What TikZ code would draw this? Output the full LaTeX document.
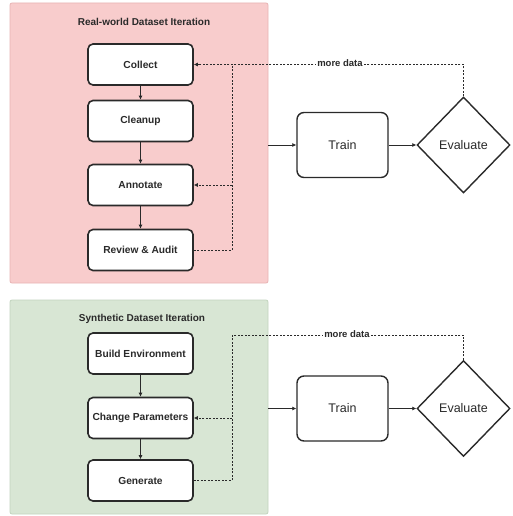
\documentclass[tikz,border=0pt]{standalone}
\usepackage{fontspec}
\setmainfont{Liberation Sans}
\usetikzlibrary{arrows.meta,shapes.geometric}
\definecolor{realfill}{HTML}{F8CCCC}
\definecolor{realedge}{HTML}{E8B4B4}
\definecolor{synfill}{HTML}{D8E6D4}
\definecolor{synedge}{HTML}{C2D4BE}
\definecolor{ink}{HTML}{2A2A2A}
\begin{document}
\begin{tikzpicture}[x=1pt,y=-1pt,
  group/.style={draw=#1, line width=0.8pt, rounded corners=2pt, inner sep=0pt},
  grouptitle/.style={font=\bfseries\fontsize{10}{12}\selectfont, text=ink},
  stepbox/.style={draw=ink, line width=1.6pt, rounded corners=5pt, fill=white,
    minimum width=105pt, minimum height=41pt, inner sep=0pt,
    font=\bfseries\fontsize{10.2}{12}\selectfont, text=ink},
  trainbox/.style={draw=ink, line width=1.4pt, rounded corners=7pt, fill=white,
    minimum width=91pt, minimum height=65pt, inner sep=0pt,
    font=\fontsize{12.5}{14}\selectfont, text=ink},
  evalbox/.style={diamond, draw=ink, line width=1.4pt, fill=white,
    minimum width=93pt, minimum height=96pt, inner sep=0pt,
    font=\fontsize{12.5}{14}\selectfont, text=ink},
  flow/.style={draw=ink, line width=0.7pt, -{Latex[length=4pt,width=4pt]}},
  loop/.style={draw=ink, line width=0.6pt, dash pattern=on 2pt off 1.5pt},
  looparrow/.style={loop, -{Latex[length=4pt,width=4pt]}},
  looplabel/.style={fill=white, inner sep=1pt, font=\bfseries\fontsize{9.5}{11}\selectfont, text=ink}
]
\useasboundingbox (0,0) rectangle (513,516);
\fill[white] (0,0) rectangle (513,516);

% Real-world dataset loop
\node[group=realedge, fill=realfill, minimum width=258pt, minimum height=280pt] (realgrp) at (139,143) {};
\node[grouptitle] (realtitle) at (144,22) {Real-world Dataset Iteration};
\node[stepbox] (collect) at (140.5,64.5) {Collect};
\node[stepbox] (cleanup) at (140.5,121) {Cleanup};
\node[stepbox] (annotate) at (140.5,185) {Annotate};
\node[stepbox] (review) at (140.5,250) {Review \& Audit};

\node[trainbox] (train1) at (342.5,145) {Train};
\node[evalbox] (eval1) at (463.5,145) {Evaluate};

\coordinate (j1) at (232,64.5);

\draw[flow] (collect) -- (cleanup);
\draw[flow] (cleanup) -- (annotate);
\draw[flow] (annotate) -- (review);
\draw[flow] (realgrp.east |- train1.west) -- (train1.west);
\draw[flow] (train1.east) -- (eval1.west);

\draw[loop] (review.east) -| (j1);
\draw[looparrow] (j1 |- annotate.east) -- (annotate.east);
\draw[looparrow] (eval1.north) |- (collect.east);
\node[looplabel] (more1) at (340,63) {more data};

% Synthetic dataset loop
\node[group=synedge, fill=synfill, minimum width=258pt, minimum height=214pt] (syngrp) at (139,407) {};
\node[grouptitle] (syntitle) at (142,319) {Synthetic Dataset Iteration};
\node[stepbox] (build) at (140.5,353.5) {Build Environment};
\node[stepbox] (change) at (140.5,418) {Change Parameters};
\node[stepbox] (generate) at (140.5,480.5) {Generate};

\node[trainbox] (train2) at (342.5,408.5) {Train};
\node[evalbox] (eval2) at (463.5,408.5) {Evaluate};

\coordinate (j2) at (232,335);

\draw[flow] (build) -- (change);
\draw[flow] (change) -- (generate);
\draw[flow] (syngrp.east |- train2.west) -- (train2.west);
\draw[flow] (train2.east) -- (eval2.west);

\draw[loop] (generate.east) -| (j2);
\draw[loop] (eval2.north) |- (j2);
\draw[looparrow] (j2 |- change.east) -- (change.east);
\node[looplabel] (more2) at (347,334) {more data};
\end{tikzpicture}
\end{document}
